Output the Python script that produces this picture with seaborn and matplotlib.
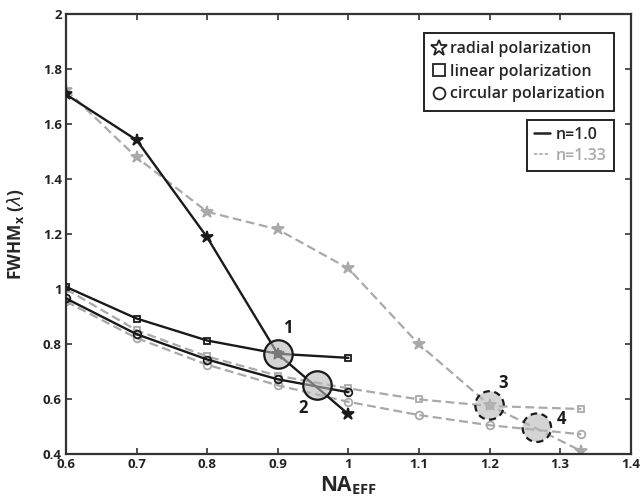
import matplotlib
matplotlib.use("Agg")
import matplotlib.pyplot as plt
from matplotlib.lines import Line2D
import numpy as np
import pandas as pd
import seaborn as sns

sns.set_style("ticks")
plt.rcParams["font.family"] = ["Open Sans", "DejaVu Sans"]

# NA_EFF values
na_air = [0.6, 0.7, 0.8, 0.9, 1.0]
na_water = [0.6, 0.7, 0.8, 0.9, 1.0, 1.1, 1.2, 1.33]

# FWHM_x (lambda), n = 1.0
radial_air = [1.708, 1.542, 1.188, 0.764, 0.545]
linear_air = [1.008, 0.893, 0.813, 0.765, 0.750]
circular_air = [0.966, 0.836, 0.744, 0.672, 0.625]

# FWHM_x (lambda), n = 1.33
radial_water = [1.725, 1.479, 1.281, 1.217, 1.075, 0.799, 0.578, 0.411]
linear_water = [1.000, 0.850, 0.755, 0.685, 0.639, 0.599, 0.575, 0.564]
circular_water = [0.955, 0.822, 0.725, 0.650, 0.590, 0.542, 0.505, 0.472]

# highlighted points
spot_labels = ["1", "2", "3", "4"]
spot_x = [0.9, 0.956, 1.2, 1.267]
spot_y = [0.765, 0.653, 0.577, 0.496]

GRAY = "#a9a9a9"

rows = []
for pol, vals in [("radial", radial_air), ("linear", linear_air), ("circular", circular_air)]:
    for x, y in zip(na_air, vals):
        rows.append([pol, "n=1.0", x, y])
for pol, vals in [("radial", radial_water), ("linear", linear_water), ("circular", circular_water)]:
    for x, y in zip(na_water, vals):
        rows.append([pol, "n=1.33", x, y])
df = pd.DataFrame(rows, columns=["pol", "medium", "na", "fwhm"])

fig = plt.figure(figsize=(6.41, 5.04), dpi=100)
ax = fig.add_axes([0.103, 0.099, 0.881, 0.873])

markers = {"radial": "*", "linear": "s", "circular": "o"}
msize = {"radial": 9, "linear": 5, "circular": 5.5}

# gray (n=1.33) first, black on top
for medium, color, ls, lw in [("n=1.33", GRAY, (0, (4, 2)), 1.6), ("n=1.0", "#1a1a1a", "-", 1.7)]:
    for pol in ["radial", "linear", "circular"]:
        sub = df[(df.medium == medium) & (df.pol == pol)]
        sns.lineplot(data=sub, x="na", y="fwhm", ax=ax, color=color, linestyle=ls,
                     linewidth=lw, marker=markers[pol], markersize=msize[pol],
                     markerfacecolor="none" if pol != "radial" else color,
                     markeredgecolor=color, markeredgewidth=1.3, zorder=3 if medium == "n=1.0" else 2)

# highlighted spots
for i in range(4):
    ls = "-" if i < 2 else (0, (3, 2))
    ax.scatter([spot_x[i]], [spot_y[i]], s=420, facecolor=(0.72, 0.72, 0.72, 0.6),
               edgecolor="#1a1a1a", linewidth=1.6, linestyle=ls, zorder=4)

label_pos = [(0.914, 0.86), (0.936, 0.567), (1.219, 0.66), (1.302, 0.527)]
for lab, (tx, ty) in zip(spot_labels, label_pos):
    ax.text(tx, ty, lab, fontsize=12, fontweight="bold", ha="center", va="center", color="#1a1a1a")

ax.set_xlim(0.6, 1.4)
ax.set_ylim(0.4, 2.0)
ax.set_xticks([0.6, 0.7, 0.8, 0.9, 1.0, 1.1, 1.2, 1.3, 1.4])
ax.set_xticklabels(["0.6", "0.7", "0.8", "0.9", "1", "1.1", "1.2", "1.3", "1.4"])
ax.set_yticks([0.4, 0.6, 0.8, 1.0, 1.2, 1.4, 1.6, 1.8, 2.0])
ax.set_yticklabels(["0.4", "0.6", "0.8", "1", "1.2", "1.4", "1.6", "1.8", "2"])
ax.tick_params(direction="in", top=True, right=True, labeltop=False, labelright=False,
               length=4, width=1.2, labelsize=9.5, pad=3, color="#333333")
for lbl in ax.get_xticklabels() + ax.get_yticklabels():
    lbl.set_fontweight("bold")
    lbl.set_color("#222222")
for sp in ax.spines.values():
    sp.set_linewidth(1.6)
    sp.set_color("#333333")

ax.set_xlabel("NA$_{\\mathregular{EFF}}$", fontsize=15, fontweight="bold", labelpad=2)
ax.set_ylabel("FWHM$_{\\mathregular{x}}$ ($\\lambda$)", fontsize=12.5, fontweight="bold", labelpad=12)

# legends
h1 = [Line2D([], [], ls="none", marker="*", markersize=12, markerfacecolor="none", markeredgecolor="#222222", markeredgewidth=1.3),
      Line2D([], [], ls="none", marker="s", markersize=8.5, markerfacecolor="none", markeredgecolor="#222222", markeredgewidth=1.3),
      Line2D([], [], ls="none", marker="o", markersize=8.5, markerfacecolor="none", markeredgecolor="#222222", markeredgewidth=1.3)]
leg1 = ax.legend(h1, ["radial polarization", "linear polarization", "circular polarization"],
                 loc="upper right", bbox_to_anchor=(0.97, 0.958), fancybox=False, edgecolor="#222222",
                 framealpha=1, handlelength=0.8, handletextpad=0.3, borderpad=0.55, labelspacing=0.4,
                 borderaxespad=0, prop={"size": 11.5, "weight": "semibold"})
leg1.get_frame().set_linewidth(1.4)
ax.add_artist(leg1)

h2 = [Line2D([], [], color="#222222", lw=1.8),
      Line2D([], [], color=GRAY, lw=1.2, ls=(0, (2, 1.2)))]
leg2 = ax.legend(h2, ["n=1.0", "n=1.33"], loc="upper right", bbox_to_anchor=(0.97, 0.76),
                 fancybox=False, edgecolor="#222222", framealpha=1, handlelength=1.0,
                 handletextpad=0.35, borderpad=0.45, labelspacing=0.3, borderaxespad=0,
                 prop={"size": 11.5, "weight": "semibold"})
leg2.get_frame().set_linewidth(1.4)
leg2.get_texts()[1].set_color(GRAY)

fig.savefig("out.png", dpi=100)
